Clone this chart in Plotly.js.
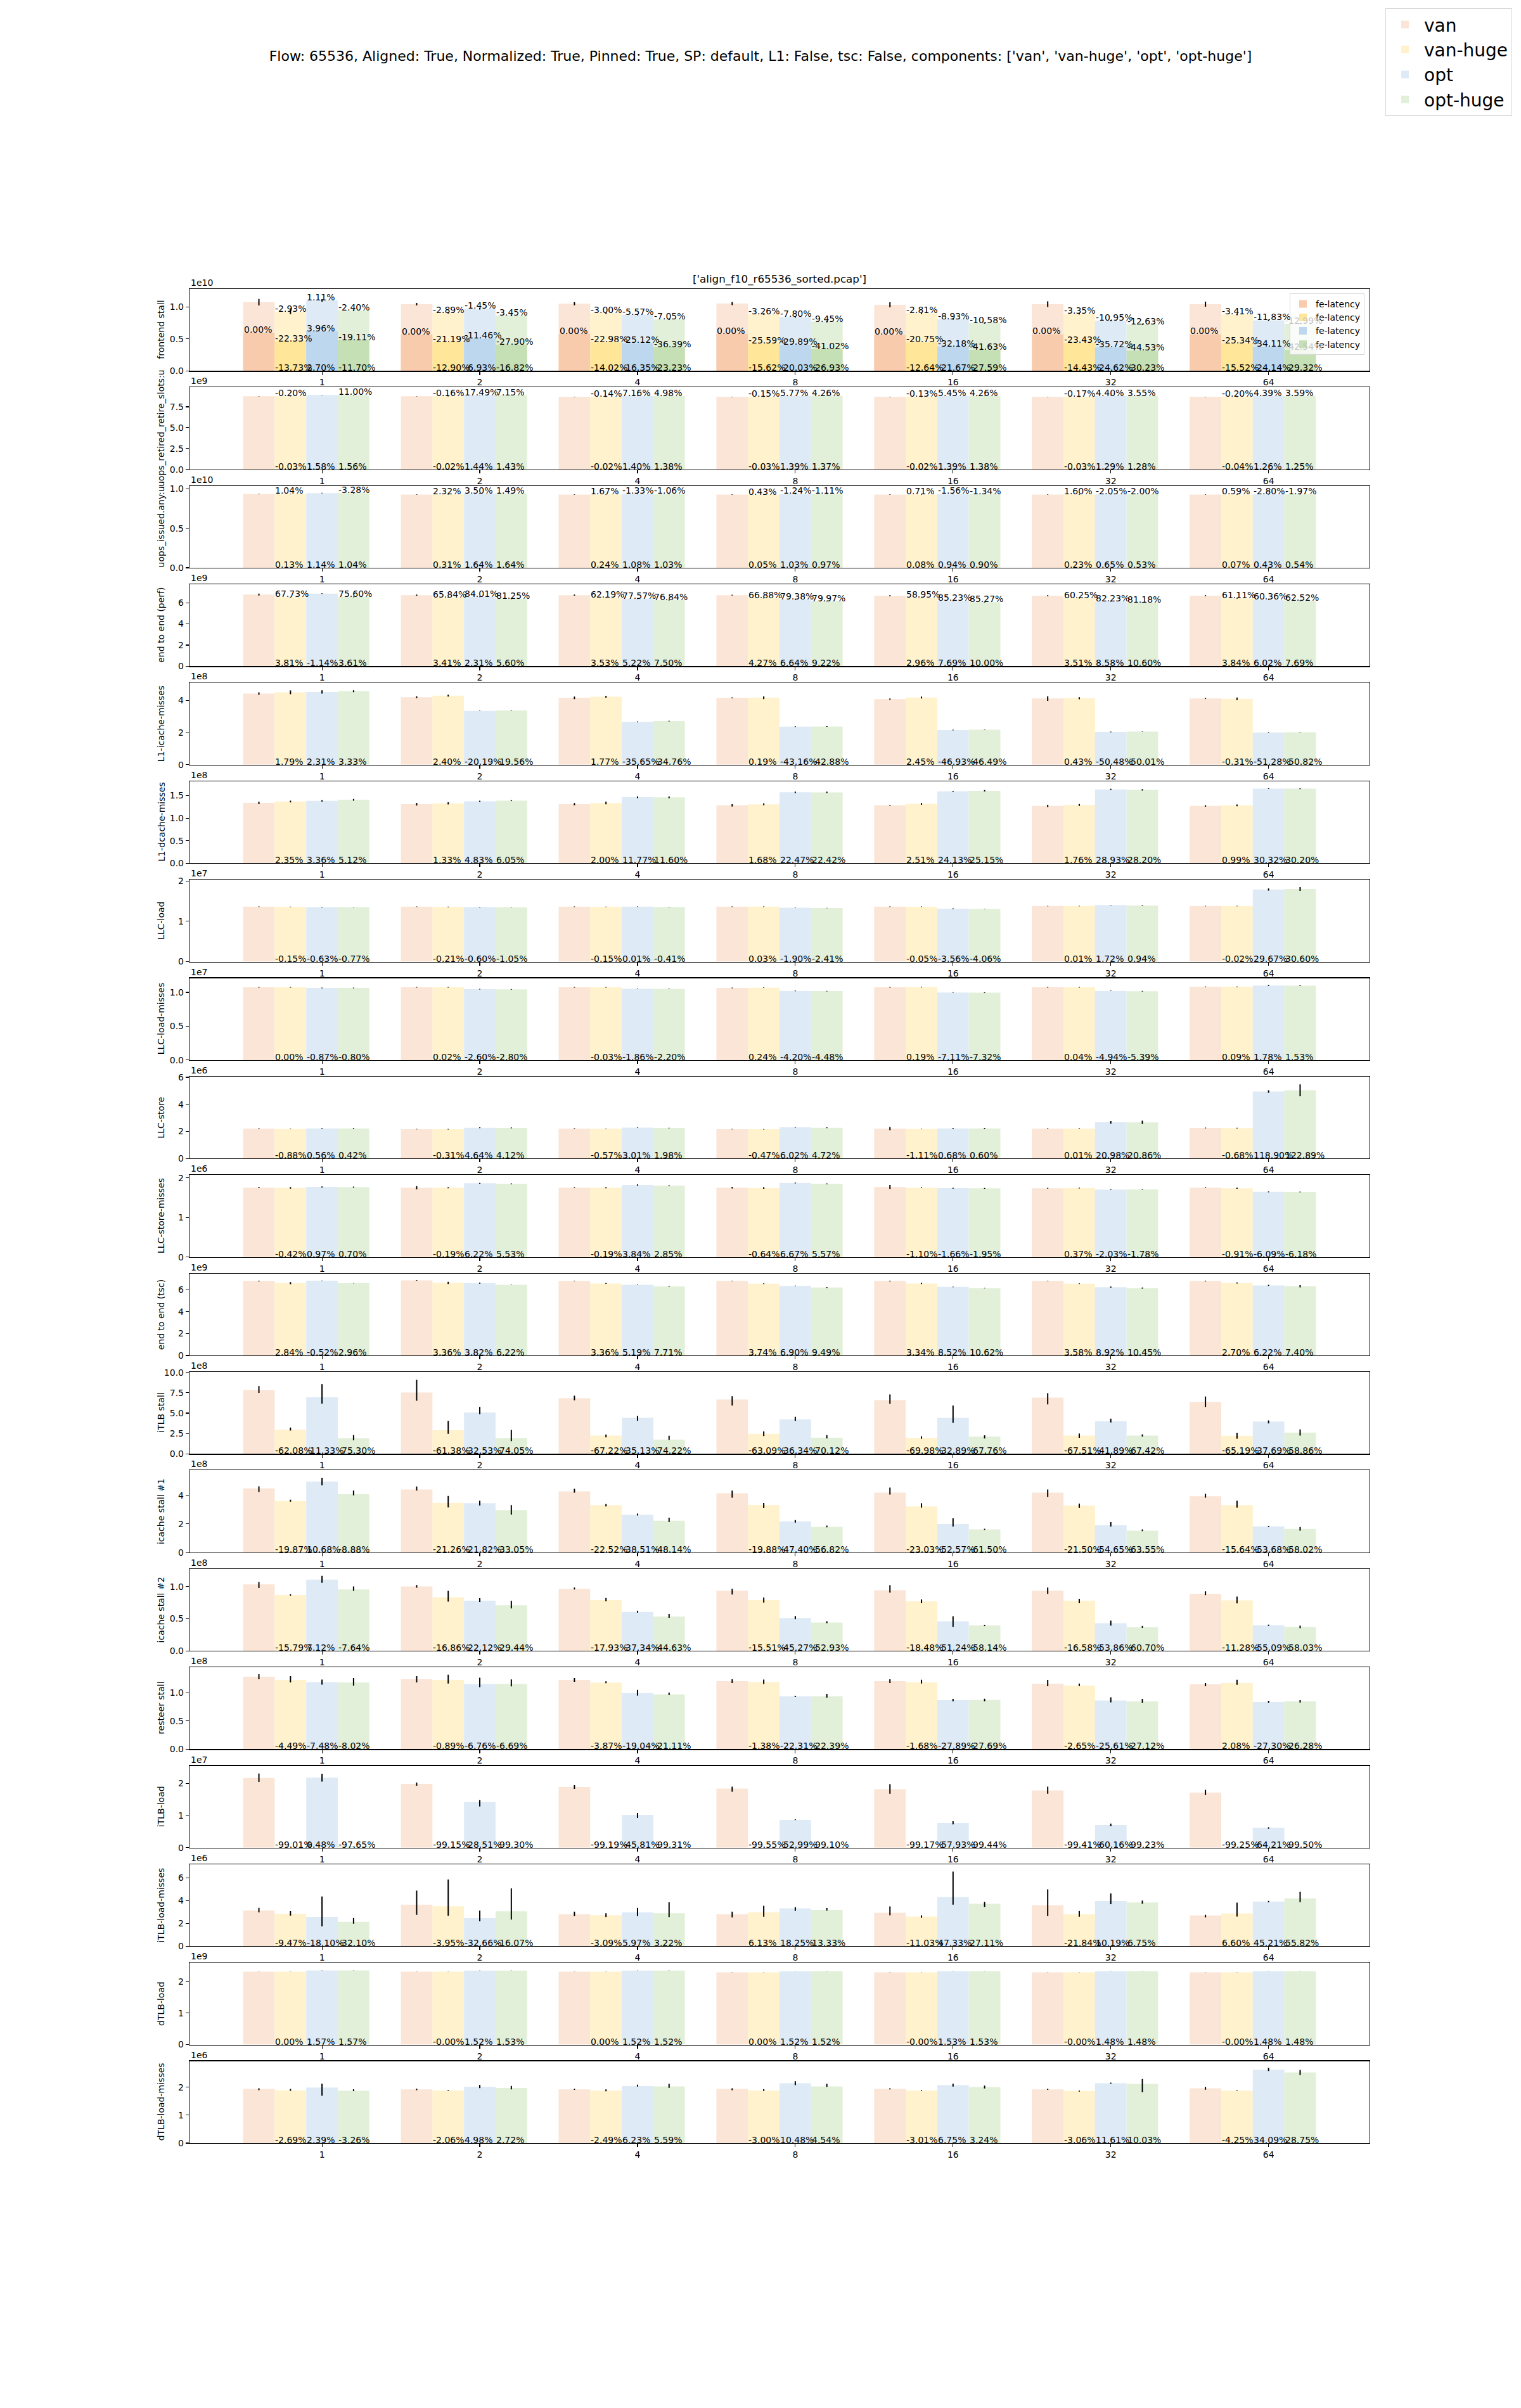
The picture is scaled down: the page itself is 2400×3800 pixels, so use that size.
<!DOCTYPE html>
<html><head><meta charset="utf-8">
<script src="https://cdn.plot.ly/plotly-3.0.1.min.js"></script>
<style>html,body{margin:0;padding:0;background:#fff}</style>
</head><body><div id="chart" style="width:2400px;height:3800px"></div>
<script>
// ---------------- data ----------------
const groups = ["1","2","4","8","16","32","64"];
const seriesNames = ["van","van-huge","opt","opt-huge"];
const suptitleText = "Flow: 65536, Aligned: True, Normalized: True, Pinned: True, SP: default, L1: False, tsc: False, components: ['van', 'van-huge', 'opt', 'opt-huge']";
const subplotTitleText = "['align_f10_r65536_sorted.pcap']";

// 1 frontend stall (1e10)
const frontendStallVals = [
 [1.073,1.043,1.050,1.053,1.033,1.043,1.043],
 [0.926,0.908,0.903,0.888,0.902,0.893,0.881],
 [1.102,0.971,0.878,0.842,0.809,0.786,0.791],
 [0.947,0.868,0.806,0.769,0.748,0.728,0.737]];
const frontendStallErr = [
 [0.05,0.02,0.025,0.025,0.04,0.045,0.04],
 [0.04,0.012,0.012,0.012,0.012,0.012,0.012],
 [0.02,0.012,0.01,0.01,0.01,0.01,0.01],
 [0.012,0.01,0.01,0.01,0.01,0.01,0.01]];
const feLatencyVals = [
 [0.596,0.570,0.580,0.580,0.563,0.573,0.573],
 [0.463,0.449,0.447,0.432,0.446,0.439,0.428],
 [0.620,0.505,0.434,0.407,0.382,0.368,0.378],
 [0.482,0.411,0.369,0.342,0.329,0.318,0.329]];
const feLatencyLabels = [
 ["0.00%","0.00%","0.00%","0.00%","0.00%","0.00%","0.00%"],
 ["-22.33%","-21.19%","-22.98%","-25.59%","-20.75%","-23.43%","-25.34%"],
 ["3.96%","-11.46%","-25.12%","-29.89%","-32.18%","-35.72%","-34.11%"],
 ["-19.11%","-27.90%","-36.39%","-41.02%","-41.63%","-44.53%","-42.54%"]];
const frontendStallTop = [
 ["-2.93%","-2.89%","-3.00%","-3.26%","-2.81%","-3.35%","-3.41%"],
 ["1.11%","-1.45%","-5.57%","-7.80%","-8.93%","-10.95%","-11.83%"],
 ["-2.40%","-3.45%","-7.05%","-9.45%","-10.58%","-12.63%","-12.99%"]];
const frontendStallBottom = [
 ["-13.73%","-12.90%","-14.02%","-15.62%","-12.64%","-14.43%","-15.52%"],
 ["2.70%","-6.93%","-16.35%","-20.03%","-21.67%","-24.62%","-24.14%"],
 ["-11.70%","-16.82%","-23.23%","-26.93%","-27.59%","-30.23%","-29.32%"]];
const coveredByLegend = [[3,6]]; // [series, group] labels sitting under the fe-latency legend

// 2 uops_retired_retire_slots:u (1e9)
const retireSlotsVals = [
 [8.78,8.78,8.70,8.70,8.70,8.70,8.70],
 [8.777,8.778,8.698,8.697,8.698,8.697,8.697],
 [8.919,8.906,8.822,8.821,8.821,8.812,8.810],
 [8.917,8.906,8.820,8.819,8.820,8.811,8.809]];
const retireSlotsErr = [
 [0.02,0.02,0.02,0.02,0.02,0.02,0.02],
 [0.02,0.02,0.02,0.02,0.02,0.02,0.02],
 [0.02,0.02,0.02,0.02,0.02,0.02,0.02],
 [0.02,0.02,0.02,0.02,0.02,0.02,0.02]];
const retireSlotsTop = [
 ["-0.20%","-0.16%","-0.14%","-0.15%","-0.13%","-0.17%","-0.20%"],
 ["","17.49%","7.16%","5.77%","5.45%","4.40%","4.39%"],
 ["11.00%","7.15%","4.98%","4.26%","4.26%","3.55%","3.59%"]];
const retireSlotsBottom = [
 ["-0.03%","-0.02%","-0.02%","-0.03%","-0.02%","-0.03%","-0.04%"],
 ["1.58%","1.44%","1.40%","1.39%","1.39%","1.29%","1.26%"],
 ["1.56%","1.43%","1.38%","1.37%","1.38%","1.28%","1.25%"]];

// 3 uops_issued.any:u (1e10)
const issuedVals = [
 [0.933,0.925,0.925,0.925,0.925,0.925,0.925],
 [0.934,0.928,0.927,0.925,0.926,0.927,0.926],
 [0.944,0.940,0.935,0.935,0.934,0.931,0.929],
 [0.943,0.940,0.935,0.934,0.933,0.930,0.930]];
const issuedErr = [
 [0.003,0.003,0.003,0.003,0.003,0.003,0.003],
 [0.003,0.003,0.003,0.003,0.003,0.003,0.003],
 [0.003,0.003,0.003,0.003,0.003,0.003,0.003],
 [0.003,0.003,0.003,0.003,0.003,0.003,0.003]];
const issuedTop = [
 ["1.04%","2.32%","1.67%","0.43%","0.71%","1.60%","0.59%"],
 ["","3.50%","-1.33%","-1.24%","-1.56%","-2.05%","-2.80%"],
 ["-3.28%","1.49%","-1.06%","-1.11%","-1.34%","-2.00%","-1.97%"]];
const issuedBottom = [
 ["0.13%","0.31%","0.24%","0.05%","0.08%","0.23%","0.07%"],
 ["1.14%","1.64%","1.08%","1.03%","0.94%","0.65%","0.43%"],
 ["1.04%","1.64%","1.03%","0.97%","0.90%","0.53%","0.54%"]];

// 4 end to end (perf) (1e9)
const e2ePerfVals = [
 [6.78,6.72,6.72,6.72,6.66,6.66,6.66],
 [6.531,6.498,6.491,6.445,6.469,6.434,6.414],
 [6.858,6.568,6.387,6.302,6.184,6.134,6.282],
 [6.544,6.364,6.251,6.153,6.055,6.022,6.184]];
const e2ePerfErr = [
 [0.09,0.06,0.05,0.04,0.05,0.05,0.05],
 [0.04,0.03,0.03,0.03,0.03,0.03,0.03],
 [0.03,0.03,0.03,0.03,0.03,0.03,0.03],
 [0.03,0.03,0.03,0.03,0.03,0.03,0.03]];
const e2ePerfTop = [
 ["67.73%","65.84%","62.19%","66.88%","58.95%","60.25%","61.11%"],
 ["","84.01%","77.57%","79.38%","85.23%","82.23%","60.36%"],
 ["75.60%","81.25%","76.84%","79.97%","85.27%","81.18%","62.52%"]];
const e2ePerfBottom = [
 ["3.81%","3.41%","3.53%","4.27%","2.96%","3.51%","3.84%"],
 ["-1.14%","2.31%","5.22%","6.64%","7.69%","8.58%","6.02%"],
 ["3.61%","5.60%","7.50%","9.22%","10.00%","10.60%","7.69%"]];

// 5 L1-icache-misses (1e8)
const l1iVals = [
 [4.43,4.20,4.16,4.16,4.08,4.12,4.12],
 [4.509,4.301,4.234,4.168,4.180,4.138,4.107],
 [4.532,3.352,2.677,2.365,2.165,2.040,2.007],
 [4.578,3.378,2.714,2.376,2.183,2.060,2.026]];
const l1iErr = [
 [0.08,0.06,0.08,0.03,0.04,0.14,0.03],
 [0.12,0.06,0.06,0.08,0.06,0.06,0.08],
 [0.10,0.01,0.02,0.02,0.02,0.02,0.02],
 [0.06,0.01,0.02,0.02,0.01,0.01,0.01]];
const l1iBottom = [
 ["1.79%","2.40%","1.77%","0.19%","2.45%","0.43%","-0.31%"],
 ["2.31%","-20.19%","-35.65%","-43.16%","-46.93%","-50.48%","-51.28%"],
 ["3.33%","-19.56%","-34.76%","-42.88%","-46.49%","-50.01%","-50.82%"]];

// 6 L1-dcache-misses (1e8)
const l1dVals = [
 [1.339,1.311,1.311,1.285,1.285,1.271,1.271],
 [1.370,1.328,1.337,1.307,1.317,1.293,1.284],
 [1.384,1.374,1.465,1.574,1.595,1.639,1.656],
 [1.408,1.390,1.463,1.573,1.608,1.629,1.655]];
const l1dErr = [
 [0.028,0.03,0.025,0.025,0.01,0.025,0.015],
 [0.02,0.025,0.03,0.02,0.02,0.02,0.02],
 [0.015,0.015,0.02,0.015,0.01,0.015,0.008],
 [0.02,0.01,0.02,0.015,0.015,0.015,0.008]];
const l1dBottom = [
 ["2.35%","1.33%","2.00%","1.68%","2.51%","1.76%","0.99%"],
 ["3.36%","4.83%","11.77%","22.47%","24.13%","28.93%","30.32%"],
 ["5.12%","6.05%","11.60%","22.42%","25.15%","28.20%","30.20%"]];

// 7 LLC-load (1e7)
const llcLoadVals = [
 [1.361,1.361,1.361,1.361,1.361,1.377,1.377],
 [1.359,1.358,1.359,1.361,1.360,1.377,1.377],
 [1.352,1.353,1.361,1.335,1.313,1.401,1.786],
 [1.351,1.347,1.355,1.328,1.306,1.390,1.798]];
const llcLoadErr = [
 [0.005,0.006,0.006,0.006,0.005,0.006,0.005],
 [0.005,0.006,0.005,0.005,0.006,0.006,0.005],
 [0.005,0.005,0.005,0.005,0.008,0.005,0.026],
 [0.004,0.004,0.004,0.004,0.004,0.008,0.047]];
const llcLoadBottom = [
 ["-0.15%","-0.21%","-0.15%","0.03%","-0.05%","0.01%","-0.02%"],
 ["-0.63%","-0.60%","0.01%","-1.90%","-3.56%","1.72%","29.67%"],
 ["-0.77%","-1.05%","-0.41%","-2.41%","-4.06%","0.94%","30.60%"]];

// 8 LLC-load-misses (1e7)
const llcLoadMissVals = [
 [1.075,1.075,1.075,1.066,1.075,1.075,1.082],
 [1.075,1.075,1.075,1.069,1.077,1.075,1.083],
 [1.066,1.047,1.055,1.021,0.999,1.022,1.101],
 [1.066,1.045,1.051,1.018,0.996,1.017,1.099]];
const llcLoadMissErr = [
 [0.005,0.005,0.005,0.005,0.005,0.005,0.005],
 [0.005,0.005,0.005,0.004,0.004,0.004,0.005],
 [0.004,0.004,0.004,0.004,0.004,0.004,0.006],
 [0.004,0.004,0.004,0.004,0.004,0.004,0.004]];
const llcLoadMissBottom = [
 ["0.00%","0.02%","-0.03%","0.24%","0.19%","0.04%","0.09%"],
 ["-0.87%","-2.60%","-1.86%","-4.20%","-7.11%","-4.94%","1.78%"],
 ["-0.80%","-2.80%","-2.20%","-4.48%","-7.32%","-5.39%","1.53%"]];

// 9 LLC-store (1e6)
const llcStoreVals = [
 [2.21,2.17,2.21,2.17,2.21,2.21,2.26],
 [2.191,2.163,2.197,2.160,2.185,2.210,2.245],
 [2.222,2.271,2.277,2.301,2.225,2.674,4.947],
 [2.219,2.259,2.254,2.272,2.223,2.671,5.037]];
const llcStoreErr = [
 [0.02,0.02,0.02,0.02,0.12,0.02,0.02],
 [0.02,0.02,0.02,0.02,0.02,0.02,0.02],
 [0.02,0.03,0.02,0.02,0.03,0.10,0.09],
 [0.03,0.03,0.02,0.03,0.03,0.12,0.44]];
const llcStoreBottom = [
 ["-0.88%","-0.31%","-0.57%","-0.47%","-1.11%","0.01%","-0.68%"],
 ["0.56%","4.64%","3.01%","6.02%","0.68%","20.98%","118.90%"],
 ["0.42%","4.12%","1.98%","4.72%","0.60%","20.86%","122.89%"]];

// 10 LLC-store-misses (1e6)
const llcStoreMissVals = [
 [1.753,1.753,1.753,1.753,1.768,1.737,1.753],
 [1.746,1.750,1.750,1.742,1.749,1.743,1.737],
 [1.770,1.862,1.820,1.870,1.739,1.702,1.646],
 [1.765,1.850,1.803,1.851,1.734,1.706,1.645]];
const llcStoreMissErr = [
 [0.015,0.04,0.01,0.02,0.05,0.01,0.01],
 [0.02,0.015,0.015,0.02,0.01,0.01,0.015],
 [0.015,0.01,0.015,0.01,0.01,0.008,0.01],
 [0.015,0.01,0.01,0.01,0.01,0.008,0.008]];
const llcStoreMissBottom = [
 ["-0.42%","-0.19%","-0.19%","-0.64%","-1.10%","0.37%","-0.91%"],
 ["0.97%","6.22%","3.84%","6.67%","-1.66%","-2.03%","-6.09%"],
 ["0.70%","5.53%","2.85%","5.57%","-1.95%","-1.78%","-6.18%"]];

// 11 end to end (tsc) (1e9)
const e2eTscVals = [
 [6.80,6.86,6.80,6.80,6.80,6.80,6.80],
 [6.612,6.637,6.579,6.555,6.580,6.565,6.621],
 [6.836,6.608,6.465,6.361,6.266,6.243,6.402],
 [6.605,6.458,6.313,6.211,6.147,6.157,6.331]];
const e2eTscErr = [
 [0.03,0.03,0.02,0.02,0.03,0.02,0.03],
 [0.10,0.10,0.04,0.03,0.05,0.03,0.05],
 [0.02,0.05,0.02,0.02,0.02,0.05,0.05],
 [0.02,0.02,0.03,0.04,0.02,0.05,0.10]];
const e2eTscBottom = [
 ["2.84%","3.36%","3.36%","3.74%","3.34%","3.58%","2.70%"],
 ["-0.52%","3.82%","5.19%","6.90%","8.52%","8.92%","6.22%"],
 ["2.96%","6.22%","7.71%","9.49%","10.62%","10.45%","7.40%"]];

// 12 iTLB stall (1e8)
const itlbStallVals = [
 [7.83,7.52,6.83,6.68,6.60,6.91,6.37],
 [2.969,2.904,2.239,2.466,1.981,2.245,2.217],
 [6.943,5.074,4.431,4.252,4.429,4.015,3.969],
 [1.934,1.951,1.761,1.996,2.128,2.251,2.621]];
const itlbStallErrHi = [
 [0.49,1.56,0.31,0.41,0.69,0.54,0.67],
 [0.26,1.15,0.15,0.31,0.18,0.26,0.38],
 [1.61,0.69,0.23,0.31,1.51,0.31,0.15],
 [0.38,1.00,0.46,0.31,0.15,0.15,0.38]];
const itlbStallErrLo = [
 [0.33,1.00,0.26,0.74,0.46,0.84,0.61],
 [0.10,0.44,0.20,0.28,0.13,0.28,0.36],
 [0.77,0.20,0.36,0.20,0.61,0.15,0.23],
 [0.26,0.38,0.05,0.08,0.23,0.13,0.38]];
const itlbStallBottom = [
 ["-62.08%","-61.38%","-67.22%","-63.09%","-69.98%","-67.51%","-65.19%"],
 ["-11.33%","-32.53%","-35.13%","-36.34%","-32.89%","-41.89%","-37.69%"],
 ["-75.30%","-74.05%","-74.22%","-70.12%","-67.76%","-67.42%","-58.86%"]];

// 13 icache stall #1 (1e8)
const icache1Vals = [
 [4.49,4.41,4.28,4.15,4.19,4.19,3.93],
 [3.598,3.472,3.316,3.325,3.225,3.289,3.315],
 [4.970,3.448,2.632,2.183,1.987,1.900,1.820],
 [4.091,2.952,2.220,1.792,1.613,1.527,1.650]];
const icache1ErrHi = [
 [0.15,0.22,0.18,0.18,0.36,0.22,0.18],
 [0.09,0.49,0.09,0.13,0.22,0.13,0.31],
 [0.27,0.18,0.09,0.09,0.40,0.22,0.04],
 [0.24,0.36,0.21,0.09,0.04,0.09,0.13]];
const icache1ErrLo = [
 [0.25,0.07,0.09,0.31,0.13,0.30,0.09],
 [0.04,0.31,0.09,0.22,0.09,0.18,0.18],
 [0.27,0.16,0.04,0.09,0.18,0.09,0.04],
 [0.09,0.31,0.09,0.04,0.04,0.04,0.13]];
const icache1Bottom = [
 ["-19.87%","-21.26%","-22.52%","-19.88%","-23.03%","-21.50%","-15.64%"],
 ["10.68%","-21.82%","-38.51%","-47.40%","-52.57%","-54.65%","-53.68%"],
 ["-8.88%","-33.05%","-48.14%","-56.82%","-61.50%","-63.55%","-58.02%"]];

// 14 icache stall #2 (1e8)
const icache2Vals = [
 [1.033,1.003,0.964,0.935,0.944,0.935,0.886],
 [0.870,0.834,0.791,0.790,0.770,0.780,0.786],
 [1.107,0.781,0.604,0.512,0.460,0.431,0.398],
 [0.954,0.708,0.534,0.440,0.395,0.367,0.372]];
const icache2ErrHi = [
 [0.039,0.02,0.02,0.03,0.078,0.049,0.039],
 [0.01,0.098,0.03,0.039,0.03,0.03,0.059],
 [0.059,0.039,0.02,0.03,0.078,0.039,0.01],
 [0.049,0.069,0.039,0.02,0.01,0.02,0.02]];
const icache2ErrLo = [
 [0.056,0.02,0.01,0.059,0.039,0.049,0.02],
 [0.01,0.069,0.02,0.039,0.03,0.039,0.049],
 [0.049,0.02,0.01,0.02,0.088,0.039,0.01],
 [0.02,0.049,0.02,0.01,0.01,0.01,0.02]];
const icache2Bottom = [
 ["-15.79%","-16.86%","-17.93%","-15.51%","-18.48%","-16.58%","-11.28%"],
 ["7.12%","-22.12%","-37.34%","-45.27%","-51.24%","-53.86%","-55.09%"],
 ["-7.64%","-29.44%","-44.63%","-52.93%","-58.14%","-60.70%","-58.03%"]];

// 15 resteer stall (1e8)
const resteerVals = [
 [1.285,1.240,1.228,1.206,1.206,1.161,1.150],
 [1.227,1.229,1.180,1.189,1.186,1.130,1.174],
 [1.189,1.156,0.994,0.937,0.870,0.864,0.836],
 [1.182,1.157,0.969,0.936,0.872,0.846,0.848]];
const resteerErrHi = [
 [0.045,0.056,0.034,0.034,0.034,0.067,0.022],
 [0.067,0.09,0.022,0.045,0.045,0.034,0.056],
 [0.045,0.11,0.056,0.011,0.022,0.056,0.022],
 [0.079,0.079,0.034,0.045,0.022,0.045,0.022]];
const resteerErrLo = [
 [0.045,0.056,0.034,0.034,0.034,0.045,0.034],
 [0.045,0.067,0.011,0.034,0.022,0.011,0.034],
 [0.045,0.056,0.045,0.011,0.022,0.034,0.011],
 [0.056,0.045,0.011,0.022,0.022,0.022,0.022]];
const resteerBottom = [
 ["-4.49%","-0.89%","-3.87%","-1.38%","-1.68%","-2.65%","2.08%"],
 ["-7.48%","-6.76%","-19.04%","-22.31%","-27.89%","-25.61%","-27.30%"],
 ["-8.02%","-6.69%","-21.11%","-22.39%","-27.69%","-27.12%","-26.28%"]];

// 16 iTLB-load (1e7)
const itlbLoadVals = [
 [2.17,1.99,1.89,1.84,1.82,1.78,1.72],
 [0.0215,0.0169,0.0153,0.0083,0.0151,0.0105,0.0129],
 [2.180,1.423,1.024,0.865,0.766,0.709,0.616],
 [0.051,0.0139,0.0130,0.0166,0.0102,0.0137,0.0086]];
const itlbLoadErrHi = [
 [0.14,0.04,0.06,0.06,0.16,0.12,0.08],
 [0.003,0.003,0.003,0.003,0.003,0.003,0.003],
 [0.12,0.06,0.06,0.02,0.06,0.04,0.02],
 [0.003,0.003,0.003,0.003,0.003,0.003,0.003]];
const itlbLoadErrLo = [
 [0.12,0.06,0.06,0.10,0.14,0.10,0.08],
 [0.003,0.003,0.003,0.003,0.003,0.003,0.003],
 [0.12,0.14,0.10,0.005,0.04,0.04,0.02],
 [0.003,0.003,0.003,0.003,0.003,0.003,0.003]];
const itlbLoadBottom = [
 ["-99.01%","-99.15%","-99.19%","-99.55%","-99.17%","-99.41%","-99.25%"],
 ["0.48%","-28.51%","-45.81%","-52.99%","-57.93%","-60.16%","-64.21%"],
 ["-97.65%","-99.30%","-99.31%","-99.10%","-99.44%","-99.23%","-99.50%"]];

// 17 iTLB-load-misses (1e6)
const itlbMissVals = [
 [3.15,3.65,2.81,2.81,2.93,3.60,2.70],
 [2.852,3.506,2.723,2.982,2.607,2.814,2.878],
 [2.580,2.458,2.978,3.323,4.317,3.967,3.921],
 [2.139,3.063,2.900,3.185,3.724,3.843,4.207]];
const itlbMissErrHi = [
 [0.22,1.23,0.22,0.22,0.56,1.40,0.06],
 [0.22,2.35,0.17,0.56,0.11,0.28,0.95],
 [1.79,0.67,0.39,0.11,2.24,0.67,0.06],
 [0.34,2.01,0.95,0.17,0.17,0.17,0.56]];
const itlbMissErrLo = [
 [0.17,0.89,0.17,0.28,0.22,0.95,0.17],
 [0.17,0.84,0.17,0.39,0.11,0.22,0.28],
 [0.84,0.28,0.34,0.22,0.67,0.28,0.06],
 [0.17,0.73,0.34,0.06,0.28,0.11,0.34]];
const itlbMissBottom = [
 ["-9.47%","-3.95%","-3.09%","6.13%","-11.03%","-21.84%","6.60%"],
 ["-18.10%","-32.66%","5.97%","18.25%","47.33%","10.19%","45.21%"],
 ["-32.10%","-16.07%","3.22%","13.33%","27.11%","6.75%","55.82%"]];

// 18 dTLB-load (1e9)
const dtlbLoadVals = [
 [2.307,2.307,2.307,2.287,2.287,2.287,2.287],
 [2.307,2.307,2.307,2.287,2.287,2.287,2.287],
 [2.343,2.342,2.342,2.322,2.322,2.321,2.321],
 [2.343,2.342,2.342,2.322,2.322,2.321,2.321]];
const dtlbLoadErr = [
 [0.003,0.003,0.003,0.003,0.003,0.003,0.003],
 [0.003,0.003,0.003,0.003,0.003,0.003,0.003],
 [0.003,0.003,0.003,0.003,0.003,0.003,0.003],
 [0.003,0.003,0.003,0.003,0.003,0.003,0.003]];
const dtlbLoadBottom = [
 ["0.00%","-0.00%","0.00%","0.00%","-0.00%","-0.00%","-0.00%"],
 ["1.57%","1.52%","1.52%","1.52%","1.53%","1.48%","1.48%"],
 ["1.57%","1.53%","1.52%","1.52%","1.53%","1.48%","1.48%"]];

// 19 dTLB-load-misses (1e6)
const dtlbMissVals = [
 [1.94,1.92,1.92,1.94,1.94,1.92,1.96],
 [1.888,1.880,1.872,1.882,1.882,1.861,1.877],
 [1.986,2.016,2.040,2.143,2.071,2.143,2.628],
 [1.877,1.972,2.027,2.028,2.003,2.113,2.524]];
const dtlbMissErrHi = [
 [0.02,0.03,0.02,0.02,0.02,0.02,0.05],
 [0.05,0.02,0.05,0.05,0.02,0.02,0.02],
 [0.14,0.07,0.05,0.07,0.05,0.02,0.07],
 [0.05,0.07,0.09,0.09,0.05,0.18,0.09]];
const dtlbMissErrLo = [
 [0.05,0.03,0.02,0.05,0.02,0.02,0.05],
 [0.02,0.005,0.02,0.02,0.005,0.02,0.005],
 [0.29,0.05,0.02,0.07,0.05,0.02,0.05],
 [0.02,0.05,0.05,0.02,0.05,0.29,0.09]];
const dtlbMissBottom = [
 ["-2.69%","-2.06%","-2.49%","-3.00%","-3.01%","-3.06%","-4.25%"],
 ["2.39%","4.98%","6.23%","10.48%","6.75%","11.61%","34.09%"],
 ["-3.26%","2.72%","5.59%","4.54%","3.24%","10.03%","28.75%"]];

// ---------------- table for the library ----------------
const metrics = [
 {label:"frontend stall", exp:"1e10", ymax:1.28, dtick:0.5, fmt:".1f", vals:frontendStallVals, hi:frontendStallErr, lo:frontendStallErr, top:frontendStallTop, bottom:frontendStallBottom, fe:feLatencyVals, feLabels:feLatencyLabels},
 {label:"uops_retired_retire_slots:u", exp:"1e9", ymax:9.83, dtick:2.5, fmt:".1f", vals:retireSlotsVals, hi:retireSlotsErr, lo:retireSlotsErr, top:retireSlotsTop, bottom:retireSlotsBottom},
 {label:"uops_issued.any:u", exp:"1e10", ymax:1.036, dtick:0.5, fmt:".1f", vals:issuedVals, hi:issuedErr, lo:issuedErr, top:issuedTop, bottom:issuedBottom},
 {label:"end to end (perf)", exp:"1e9", ymax:7.74, dtick:2, fmt:"d", vals:e2ePerfVals, hi:e2ePerfErr, lo:e2ePerfErr, top:e2ePerfTop, bottom:e2ePerfBottom},
 {label:"L1-icache-misses", exp:"1e8", ymax:5.1, dtick:2, fmt:"d", vals:l1iVals, hi:l1iErr, lo:l1iErr, bottom:l1iBottom},
 {label:"L1-dcache-misses", exp:"1e8", ymax:1.82, dtick:0.5, fmt:".1f", vals:l1dVals, hi:l1dErr, lo:l1dErr, bottom:l1dBottom},
 {label:"LLC-load", exp:"1e7", ymax:2.03, dtick:1, fmt:"d", vals:llcLoadVals, hi:llcLoadErr, lo:llcLoadErr, bottom:llcLoadBottom},
 {label:"LLC-load-misses", exp:"1e7", ymax:1.21, dtick:0.5, fmt:".1f", vals:llcLoadMissVals, hi:llcLoadMissErr, lo:llcLoadMissErr, bottom:llcLoadMissBottom},
 {label:"LLC-store", exp:"1e6", ymax:6.05, dtick:2, fmt:"d", vals:llcStoreVals, hi:llcStoreErr, lo:llcStoreErr, bottom:llcStoreBottom},
 {label:"LLC-store-misses", exp:"1e6", ymax:2.07, dtick:1, fmt:"d", vals:llcStoreMissVals, hi:llcStoreMissErr, lo:llcStoreMissErr, bottom:llcStoreMissBottom},
 {label:"end to end (tsc)", exp:"1e9", ymax:7.49, dtick:2, fmt:"d", vals:e2eTscVals, hi:e2eTscErr, lo:e2eTscErr, bottom:e2eTscBottom},
 {label:"iTLB stall", exp:"1e8", ymax:10.05, dtick:2.5, fmt:".1f", vals:itlbStallVals, hi:itlbStallErrHi, lo:itlbStallErrLo, bottom:itlbStallBottom},
 {label:"icache stall #1", exp:"1e8", ymax:5.75, dtick:2, fmt:"d", vals:icache1Vals, hi:icache1ErrHi, lo:icache1ErrLo, bottom:icache1Bottom},
 {label:"icache stall #2", exp:"1e8", ymax:1.275, dtick:0.5, fmt:".1f", vals:icache2Vals, hi:icache2ErrHi, lo:icache2ErrLo, bottom:icache2Bottom},
 {label:"resteer stall", exp:"1e8", ymax:1.45, dtick:0.5, fmt:".1f", vals:resteerVals, hi:resteerErrHi, lo:resteerErrLo, bottom:resteerBottom},
 {label:"iTLB-load", exp:"1e7", ymax:2.55, dtick:1, fmt:"d", vals:itlbLoadVals, hi:itlbLoadErrHi, lo:itlbLoadErrLo, bottom:itlbLoadBottom},
 {label:"iTLB-load-misses", exp:"1e6", ymax:7.2, dtick:2, fmt:"d", vals:itlbMissVals, hi:itlbMissErrHi, lo:itlbMissErrLo, bottom:itlbMissBottom},
 {label:"dTLB-load", exp:"1e9", ymax:2.59, dtick:1, fmt:"d", vals:dtlbLoadVals, hi:dtlbLoadErr, lo:dtlbLoadErr, bottom:dtlbLoadBottom},
 {label:"dTLB-load-misses", exp:"1e6", ymax:2.93, dtick:1, fmt:"d", vals:dtlbMissVals, hi:dtlbMissErrHi, lo:dtlbMissErrLo, bottom:dtlbMissBottom}
];

// ---------------- styles / geometry ----------------
const lightColors = ["#fbe5d6","#fff2cc","#deebf7","#e2f0d9"];
const darkColors = ["#f8cbad","#ffe699","#bdd7ee","#c5e0b4"];
const offsets = [-0.5,-0.3,-0.1,0.1];
const barWidth = 0.2;
const W = 2400, H = 3800;
const axLeftPx = 299, axRightPx = 2161, firstTopPx = 456, rowStepPx = 155.37, axHeightPx = 129.3;
const FONT = "DejaVu Sans";

const traces = [];
const annotations = [];
const layout = {
  width: W, height: H,
  margin: {l:0, r:0, t:0, b:0, pad:0},
  paper_bgcolor: "#fff", plot_bgcolor: "#fff",
  font: {family: FONT, size: 14, color: "#000"},
  barmode: "overlay",
  showlegend: true,
  hovermode: false,
  title: {text: suptitleText, x: 0.5, xanchor: "center", y: 1 - 88/H, yanchor: "middle", font: {size: 22, family: FONT, color: "#000"}},
  legend: {x: 2386/W, xanchor: "right", y: 1 - 13/H, yanchor: "top", font: {size: 28, family: FONT}, bgcolor: "rgba(255,255,255,0.8)", bordercolor: "#d6d6d6", borderwidth: 1, tracegroupgap: 6, traceorder: "normal", itemwidth: 50},
  legend2: {x: 2153/W, xanchor: "right", y: 1 - 463/H, yanchor: "top", font: {size: 14, family: FONT}, bgcolor: "rgba(255,255,255,0.8)", bordercolor: "#d6d6d6", borderwidth: 1, tracegroupgap: 1, traceorder: "normal"},
  annotations: annotations
};

function label(xa, ya, x, y, text, color) {
  if (!text) return;
  annotations.push({xref: xa, yref: ya, x: x, y: y, text: text, showarrow: false,
    xanchor: "left", yanchor: "bottom", yshift: -4, borderpad: 0,
    font: {size: 14, family: FONT, color: color || "#000"}});
}
function isCovered(s, g) { return coveredByLegend.some(c => c[0] === s && c[1] === g); }

metrics.forEach((m, mi) => {
  const k = mi === 0 ? "" : String(mi + 1);
  const xa = "x" + k, ya = "y" + k;
  const topPx = firstTopPx + mi * rowStepPx;
  const botPx = topPx + axHeightPx;
  layout["xaxis" + k] = {
    domain: [axLeftPx / W, axRightPx / W], anchor: ya, type: "category",
    range: [-0.84, 6.64], tickmode: "array", tickvals: groups, ticktext: groups,
    ticks: "outside", ticklen: 5, tickwidth: 1.1, tickcolor: "#000",
    showline: true, linecolor: "#000", linewidth: 1.2, mirror: true,
    showgrid: false, zeroline: false, tickfont: {size: 14, family: FONT, color: "#000"}, fixedrange: true
  };
  layout["yaxis" + k] = {
    domain: [1 - botPx / H, 1 - topPx / H], anchor: xa,
    range: [0, m.ymax], tick0: 0, dtick: m.dtick, tickformat: m.fmt,
    ticks: "outside", ticklen: 5, tickwidth: 1.1, tickcolor: "#000",
    showline: true, linecolor: "#000", linewidth: 1.2, mirror: true,
    showgrid: false, zeroline: false, tickfont: {size: 14, family: FONT, color: "#000"}, fixedrange: true
  };
  for (let s = 0; s < 4; s++) {
    traces.push({
      type: "bar", x: groups, y: m.vals[s], xaxis: xa, yaxis: ya,
      offset: offsets[s], width: barWidth,
      marker: {color: lightColors[s], line: {width: 0}},
      name: seriesNames[s], legendgroup: seriesNames[s], legend: "legend",
      showlegend: mi === 0,
      error_y: {type: "data", symmetric: false, array: m.hi[s], arrayminus: m.lo[s], color: "#000", thickness: 2, width: 0}
    });
  }
  if (m.fe) {
    for (let s = 0; s < 4; s++) {
      traces.push({
        type: "bar", x: groups, y: m.fe[s], xaxis: xa, yaxis: ya,
        offset: offsets[s], width: barWidth,
        marker: {color: darkColors[s], line: {width: 0}},
        name: "fe-latency", legendgroup: "fe" + s, legend: "legend2", showlegend: true
      });
    }
  }
  // bar labels
  for (let g = 0; g < groups.length; g++) {
    for (let r = 0; r < 3; r++) {
      const s = r + 1;
      const covered = m.fe && isCovered(s, g);
      if (m.top) label(xa, ya, g + offsets[s], m.vals[s][g], m.top[r][g], covered ? "#c6c6c6" : "#000");
      label(xa, ya, g + offsets[s], 0, m.bottom[r][g]);
    }
    if (m.fe) {
      for (let s = 0; s < 4; s++) {
        label(xa, ya, g + offsets[s], m.fe[s][g], m.feLabels[s][g], isCovered(s, g) ? "#c6c6c6" : "#000");
      }
    }
  }
  // y label
  annotations.push({xref: "paper", yref: "paper", x: 254 / W, y: 1 - (topPx + axHeightPx / 2) / H,
    text: m.label, textangle: -90, showarrow: false, xanchor: "center", yanchor: "middle",
    font: {size: 14, family: FONT, color: "#000"}});
  // offset (exponent) label
  annotations.push({xref: "paper", yref: "paper", x: axLeftPx / W, y: 1 - topPx / H,
    text: m.exp, showarrow: false, xanchor: "left", yanchor: "bottom", yshift: 0,
    font: {size: 14, family: FONT, color: "#000"}});
  if (mi === 0) {
    annotations.push({xref: "paper", yref: "paper", x: (axLeftPx + axRightPx) / 2 / W, y: 1 - topPx / H,
      text: subplotTitleText, showarrow: false, xanchor: "center", yanchor: "bottom", yshift: 3,
      font: {size: 16.7, family: FONT, color: "#000"}});
  }
});

Plotly.newPlot("chart", traces, layout, {displayModeBar: false, staticPlot: true});
</script>
</body></html>
